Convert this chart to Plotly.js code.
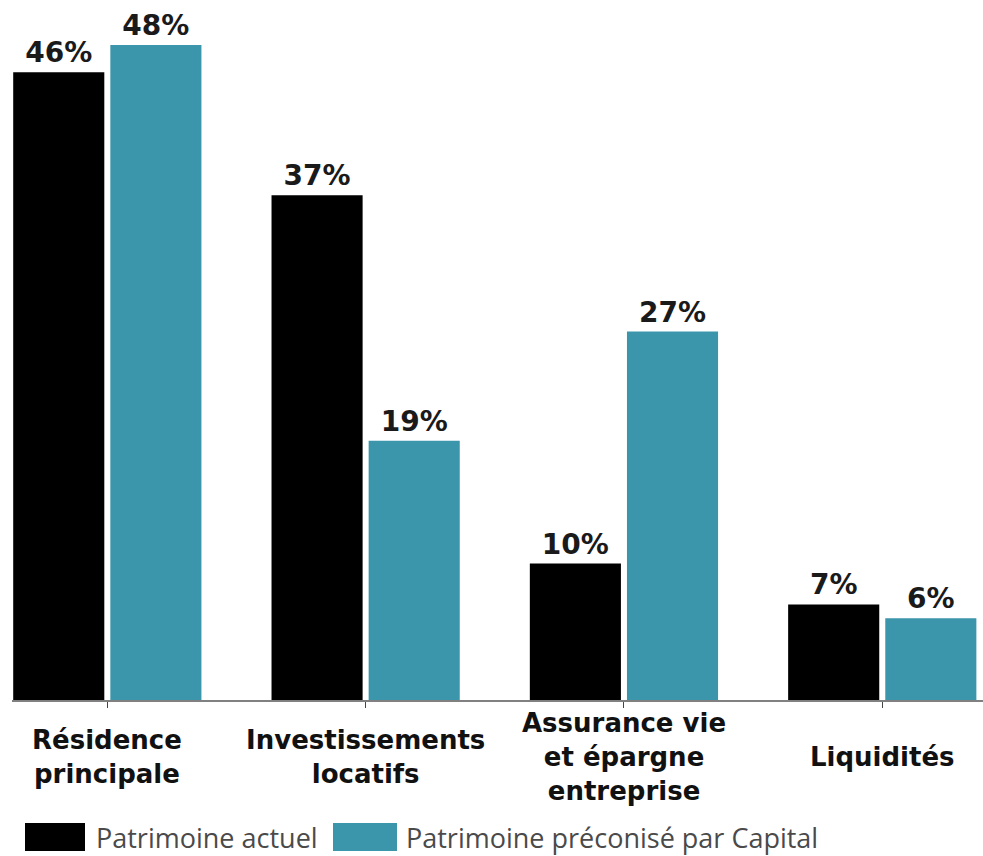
<!DOCTYPE html>
<html>
<head>
<meta charset="utf-8">
<script src="https://cdn.plot.ly/plotly-3.0.1.min.js"></script>
<style>html,body{margin:0;padding:0;background:#fff;}#chart{width:983px;height:856px;}</style>
</head>
<body>
<div id="chart"></div>
<script>
const categories = ["Résidence", "Investissements", "Assurance vie", "Liquidités"];
const categoryLabels = ["Résidence<br>principale", "Investissements<br>locatifs", "Assurance vie<br>et épargne<br>entreprise", "Liquidités"];
const seriesNames = ["Patrimoine actuel", "Patrimoine préconisé par Capital"];
const actuel = [46, 37, 10, 7];
const preconise = [48, 19, 27, 6];
const colors = ["#000000", "#3b96ab"];

const W = 983, H = 856, ML = 12, MR = 0, MT = 0, MB = 156;
const PW = W - ML - MR, PH = H - MT - MB;
const px2x = p => (p - ML) / PW;
const px2y = p => (MT + PH - p) / PH;

const valueFont = {family: "DejaVu Sans", size: 28, color: "#1a1a1a", weight: "bold"};

const traces = [actuel, preconise].map((vals, i) => ({
  type: "bar",
  name: seriesNames[i],
  x: categories,
  y: vals,
  marker: {color: colors[i], line: {width: 0}},
  text: vals.map(v => v + "%"),
  textposition: "outside",
  textfont: valueFont,
  cliponaxis: false,
  hoverinfo: "skip",
  showlegend: false
}));

const annotations = categories.map((c, i) => ({
  x: c, xref: "x",
  y: px2y(757), yref: "paper",
  yanchor: "middle", xanchor: "center",
  text: "<b>" + categoryLabels[i] + "</b>",
  showarrow: false,
  align: "center",
  font: {family: "DejaVu Sans", size: 26, color: "#111111"}
}));

const legendTextX = [94, 404];
const swatchX = [[25, 85], [333, 397]];
const shapes = [];
seriesNames.forEach((n, i) => {
  shapes.push({
    type: "rect", xref: "paper", yref: "paper",
    x0: px2x(swatchX[i][0]), x1: px2x(swatchX[i][1]),
    y0: px2y(823), y1: px2y(851),
    fillcolor: colors[i], line: {width: 0}
  });
  annotations.push({
    x: px2x(legendTextX[i]), xref: "paper",
    y: px2y(837), yref: "paper",
    xanchor: "left", yanchor: "middle",
    text: n, showarrow: false,
    font: {family: "Open Sans", size: 27, color: "#4a4a4a"}
  });
});

const layout = {
  width: W, height: H,
  margin: {l: ML, r: MR, t: MT, b: MB, pad: 0},
  paper_bgcolor: "#ffffff", plot_bgcolor: "#ffffff",
  barmode: "group",
  bargap: 0.248,
  bargroupgap: 0.062,
  showlegend: false,
  xaxis: {
    type: "category",
    range: [-0.369, 3.39],
    showline: true, linecolor: "#808080", linewidth: 2,
    ticks: "outside", ticklen: 6, tickcolor: "#444", tickwidth: 1,
    showticklabels: false, showgrid: false, zeroline: false, fixedrange: true
  },
  yaxis: {
    range: [0, 51.3],
    visible: false, showgrid: false, zeroline: false, fixedrange: true
  },
  annotations: annotations,
  shapes: shapes
};

Plotly.newPlot("chart", traces, layout, {displayModeBar: false, staticPlot: true});
</script>
</body>
</html>
